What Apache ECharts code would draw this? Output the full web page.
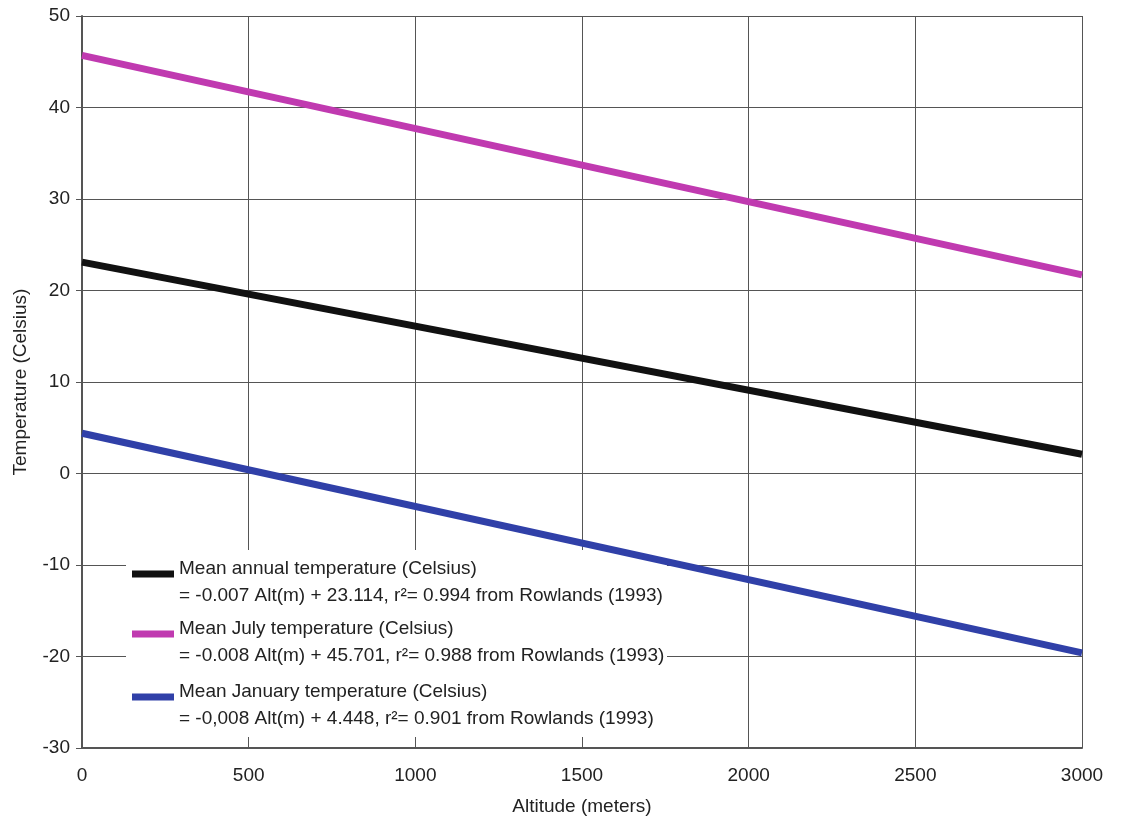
<!DOCTYPE html>
<html>
<head>
<meta charset="utf-8">
<title>Temperature vs altitude</title>
<script src="https://cdn.jsdelivr.net/npm/echarts@6/dist/echarts.min.js"></script>
<style>
  html, body { margin: 0; padding: 0; background: #fff; }
  #chart { width: 1123px; height: 822px; }
</style>
</head>
<body>
<div id="chart"></div>
<script>
  // data (straight regression lines, end points)
  const altitudes = [0, 3000];
  const annualTemp = [23.1, 2.1];
  const julyTemp = [45.7, 21.7];
  const januaryTemp = [4.4, -19.6];

  const seriesNames = [
    'Mean annual temperature (Celsius)',
    'Mean July temperature (Celsius)',
    'Mean January temperature (Celsius)'
  ];
  const equations = [
    '= -0.007 Alt(m) + 23.114, r\u00b2= 0.994 from Rowlands (1993)',
    '= -0.008 Alt(m) + 45.701, r\u00b2= 0.988 from Rowlands (1993)',
    '= -0,008 Alt(m) + 4.448, r\u00b2= 0.901 from Rowlands (1993)'
  ];
  const seriesColors = ['#111111', '#c03ab0', '#3040a8'];
  const legendTops = [542, 602, 665];

  const font = 'Liberation Sans, Arial, sans-serif';
  const textColor = '#222';

  const chart = echarts.init(document.getElementById('chart'));

  const toPairs = vals => altitudes.map((a, i) => [a, vals[i]]);
  const allValues = [annualTemp, julyTemp, januaryTemp];

  // one legend per series; an empty spacer line on top keeps the swatch
  // next to the first text line instead of between the two lines
  const legends = seriesNames.map((name, i) => ({
    data: [name],
    orient: 'vertical',
    left: 132,
    top: legendTops[i],
    padding: 0,
    itemWidth: 42,
    itemHeight: 7,
    icon: 'rect',
    selectedMode: false,
    formatter: n => '{p| }\n{t|' + n + '}\n{t|' + equations[i] + '}',
    textStyle: {
      fontFamily: font,
      fontSize: 19,
      color: textColor,
      rich: {
        p: { fontSize: 10, lineHeight: 17 },
        t: { fontFamily: font, fontSize: 19, color: textColor, lineHeight: 27 }
      }
    }
  }));

  const option = {
    backgroundColor: '#fff',
    animation: false,
    grid: { left: 82, right: 41, top: 16, bottom: 74 },
    legend: legends,
    graphic: [{
      type: 'rect',
      z: 1,
      shape: { x: 126, y: 550, width: 541, height: 187 },
      style: { fill: '#fff' },
      silent: true
    }],
    xAxis: {
      type: 'value',
      min: 0,
      max: 3000,
      interval: 500,
      name: 'Altitude (meters)',
      nameLocation: 'middle',
      nameGap: 49,
      nameTextStyle: { fontFamily: font, fontSize: 19, color: textColor },
      axisLine: { show: true, onZero: false, lineStyle: { color: '#555', width: 2 } },
      axisTick: { show: true, inside: true, length: 12, lineStyle: { color: '#555' } },
      axisLabel: {
        fontFamily: font, fontSize: 19, color: textColor, margin: 18,
        formatter: v => String(v)
      },
      splitLine: { show: true, lineStyle: { color: '#555', width: 1 } }
    },
    yAxis: {
      type: 'value',
      min: -30,
      max: 50,
      interval: 10,
      name: 'Temperature (Celsius)',
      nameLocation: 'middle',
      nameGap: 52,
      nameTextStyle: { fontFamily: font, fontSize: 19, color: textColor },
      axisLine: { show: true, onZero: false, lineStyle: { color: '#555', width: 2 } },
      axisTick: { show: true, inside: false, length: 6, lineStyle: { color: '#555' } },
      axisLabel: { fontFamily: font, fontSize: 19, color: textColor, margin: 12 },
      splitLine: { show: true, lineStyle: { color: '#555', width: 1 } }
    },
    series: seriesNames.map((name, i) => ({
      name: name,
      type: 'line',
      z: 3,
      data: toPairs(allValues[i]),
      showSymbol: false,
      symbol: 'none',
      lineStyle: { color: seriesColors[i], width: 7 },
      itemStyle: { color: seriesColors[i] }
    }))
  };

  chart.setOption(option);
</script>
</body>
</html>
